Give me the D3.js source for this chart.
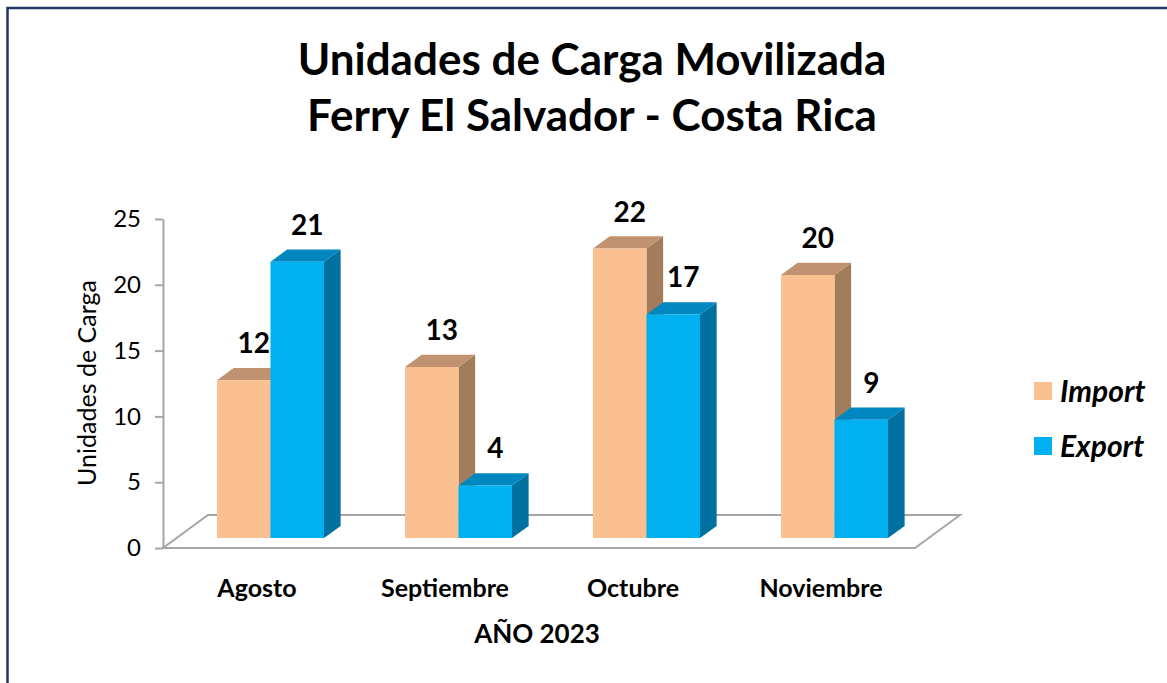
<!DOCTYPE html>
<html>
<head>
<meta charset="utf-8">
<script src="https://cdn.jsdelivr.net/npm/d3@7"></script>
<style>
  body { margin: 0; background: #fff; }
  text { font-family: Lato, "Open Sans", sans-serif; fill: #000; }
</style>
</head>
<body>
<div id="chart"></div>
<script>
// data
const months = ['Agosto', 'Septiembre', 'Octubre', 'Noviembre'];
const series = ['Import', 'Export'];
const importValues = [12, 13, 22, 20];
const exportValues = [21, 4, 17, 9];
const yTicks = [0, 5, 10, 15, 20, 25];

const W = 1167, H = 683;

const colors = {
  Import: {front: '#fac090', top: '#c19270', side: '#a27c5b'},
  Export: {front: '#00b0f0', top: '#0087bf', side: '#0071a1'}
};

const rows = months.map((m, i) => ({month: m, Import: importValues[i], Export: exportValues[i]}));

const svg = d3.select('#chart').append('svg')
  .attr('width', W)
  .attr('height', H);

svg.append('rect')
  .attr('width', W).attr('height', H)
  .attr('fill', '#fff');

// outer frame (only left and top edges are visible)
svg.append('rect')
  .attr('x', 7.5).attr('y', 8)
  .attr('width', W + 20).attr('height', H + 20)
  .attr('fill', 'none')
  .attr('stroke', '#1f3864')
  .attr('stroke-width', 2.5);

// fake 3D: depth goes back and up-right
const depth = {dx: 45, dy: -33};
const barFront = 0.3, barBack = 0.67;

const x0 = d3.scaleBand().domain(months).range([163, 915]).padding(0);
const x1 = d3.scaleBand().domain(series).range([0, x0.bandwidth()]).paddingOuter(0.757);
const y = d3.scaleLinear().domain([0, 25]).range([548, 219]);

const proj = (sx, v, z) => [sx + z * depth.dx, y(v) + z * depth.dy];

// title
const title = svg.append('text')
  .attr('text-anchor', 'middle')
  .attr('font-size', 44)
  .attr('font-weight', 'bold');
title.append('tspan').attr('x', 592).attr('y', 75).text('Unidades de Carga Movilizada');
title.append('tspan').attr('x', 592).attr('y', 131).text('Ferry El Salvador - Costa Rica');

// floor
const floor = [proj(163, 0, 0), proj(915, 0, 0), proj(915, 0, 1), proj(163, 0, 1)];
svg.append('path')
  .attr('d', d3.line()(floor) + 'Z')
  .attr('fill', 'none')
  .attr('stroke', '#a6a6a6')
  .attr('stroke-width', 2);

// value axis
const yAxis = svg.append('g')
  .attr('transform', 'translate(163,0)')
  .call(d3.axisLeft(y).tickValues(yTicks).tickSize(8).tickSizeOuter(0).tickPadding(14));
yAxis.select('.domain').attr('stroke', '#a6a6a6').attr('stroke-width', 2);
yAxis.selectAll('.tick line').attr('stroke', '#a6a6a6').attr('stroke-width', 2);
yAxis.selectAll('.tick text')
  .attr('font-family', 'Lato, sans-serif')
  .attr('font-size', 24)
  .attr('fill', '#000');

svg.append('text')
  .attr('transform', 'translate(96,383) rotate(-90)')
  .attr('text-anchor', 'middle')
  .attr('font-size', 25)
  .text('Unidades de Carga');

// bars
const bars = [];
rows.forEach(r => {
  series.forEach(s => {
    bars.push({month: r.month, key: s, value: r[s]});
  });
});

const barG = svg.append('g').selectAll('g')
  .data(bars)
  .join('g');

barG.each(function(d) {
  const g = d3.select(this);
  const xl = x0(d.month) + x1(d.key);
  const xr = xl + x1.bandwidth();
  const c = colors[d.key];
  const fbl = proj(xl, 0, barFront), fbr = proj(xr, 0, barFront);
  const ftl = proj(xl, d.value, barFront), ftr = proj(xr, d.value, barFront);
  const bbr = proj(xr, 0, barBack);
  const btl = proj(xl, d.value, barBack), btr = proj(xr, d.value, barBack);

  g.append('path')
    .attr('d', d3.line()([fbr, ftr, btr, bbr]) + 'Z')
    .attr('fill', c.side);
  g.append('path')
    .attr('d', d3.line()([ftl, ftr, btr, btl]) + 'Z')
    .attr('fill', c.top);
  g.append('path')
    .attr('d', d3.line()([fbl, fbr, ftr, ftl]) + 'Z')
    .attr('fill', c.front);
});

// data labels
svg.append('g').selectAll('text')
  .data(bars)
  .join('text')
  .attr('x', d => proj(x0(d.month) + x1(d.key) + x1.bandwidth() / 2, d.value, barFront)[0] + 10)
  .attr('y', d => proj(0, d.value, barFront)[1] - 27)
  .attr('text-anchor', 'middle')
  .attr('font-size', 28)
  .attr('font-weight', 'bold')
  .text(d => d.value);

// category labels
svg.append('g').selectAll('text')
  .data(months)
  .join('text')
  .attr('x', d => x0(d) + x0.bandwidth() / 2)
  .attr('y', 597)
  .attr('text-anchor', 'middle')
  .attr('font-size', 25)
  .attr('font-weight', 'bold')
  .text(d => d);

svg.append('text')
  .attr('x', 537)
  .attr('y', 643)
  .attr('text-anchor', 'middle')
  .attr('font-size', 26)
  .attr('font-weight', 'bold')
  .text('AÑO 2023');

// legend
const legend = svg.append('g')
  .attr('transform', 'translate(1034,382)');
const li = legend.selectAll('g')
  .data(series)
  .join('g')
  .attr('transform', (d, i) => `translate(0,${i * 55})`);
li.append('rect')
  .attr('width', 18).attr('height', 18)
  .attr('fill', d => colors[d].front);
li.append('text')
  .attr('x', 26)
  .attr('y', 20)
  .attr('font-size', 30)
  .attr('font-weight', 'bold')
  .attr('font-style', 'italic')
  .text(d => d);
</script>
</body>
</html>
